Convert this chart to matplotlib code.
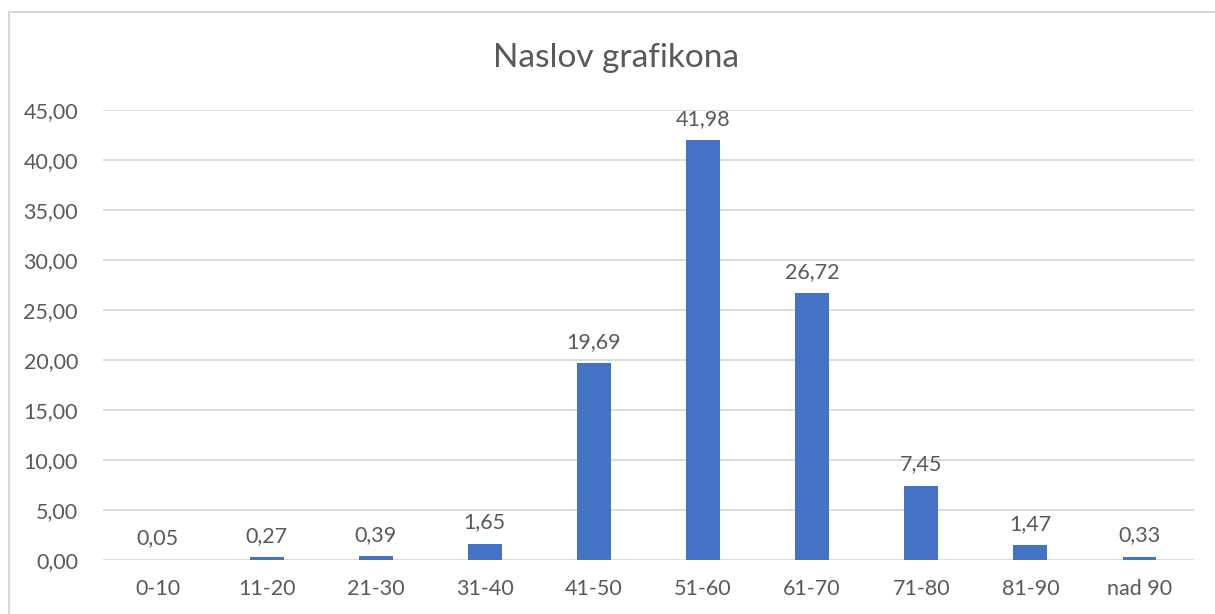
import matplotlib.pyplot as plt
from matplotlib.patches import Rectangle

categories = ['0-10', '11-20', '21-30', '31-40', '41-50',
              '51-60', '61-70', '71-80', '81-90', 'nad 90']
values = [0.05, 0.27, 0.39, 1.65, 19.69, 41.98, 26.72, 7.45, 1.47, 0.33]
yticks = [0, 5, 10, 15, 20, 25, 30, 35, 40, 45]

plt.rcParams['font.family'] = ['Lato', 'DejaVu Sans']
text_color = '#595959'
bar_color = '#4472C4'
grid_color = '#D9D9D9'

fig = plt.figure(figsize=(12.15, 6.14), dpi=100)
ax = fig.add_axes([103 / 1215, 1 - 560 / 614, 1091 / 1215, 450 / 614])

# chart border (cut off at right and bottom in the reference)
fig.patches.append(Rectangle((9 / 1215, -0.1), 1.2, 1 - 12 / 614 + 0.1,
                             transform=fig.transFigure, fill=False,
                             edgecolor=grid_color, linewidth=1.5))

x = list(range(len(categories)))
bars = ax.bar(x, values, width=0.31, color=bar_color, zorder=3)

for xi, v in zip(x, values):
    ax.annotate(f'{v:.2f}'.replace('.', ','), (xi, v),
                xytext=(0, 8), textcoords='offset points',
                ha='center', va='bottom', fontsize=15.5, color=text_color)

ax.set_xlim(-0.5, len(categories) - 0.5)
ax.set_ylim(0, 45)
ax.set_yticks(yticks)
ax.set_yticklabels([f'{t:.2f}'.replace('.', ',') for t in yticks])
ax.set_xticks(x)
ax.set_xticklabels(categories)
ax.tick_params(axis='both', length=0, labelsize=15.5, labelcolor=text_color)
ax.tick_params(axis='y', pad=18)
ax.tick_params(axis='x', pad=14)
ax.grid(axis='y', color=grid_color, linewidth=1.3, zorder=0)
for s in ax.spines.values():
    s.set_visible(False)

fig.text(616 / 1215, 1 - 58 / 614, 'Naslov grafikona', ha='center',
         va='center', fontsize=24, color=text_color)

fig.savefig('out.png', dpi=100)
